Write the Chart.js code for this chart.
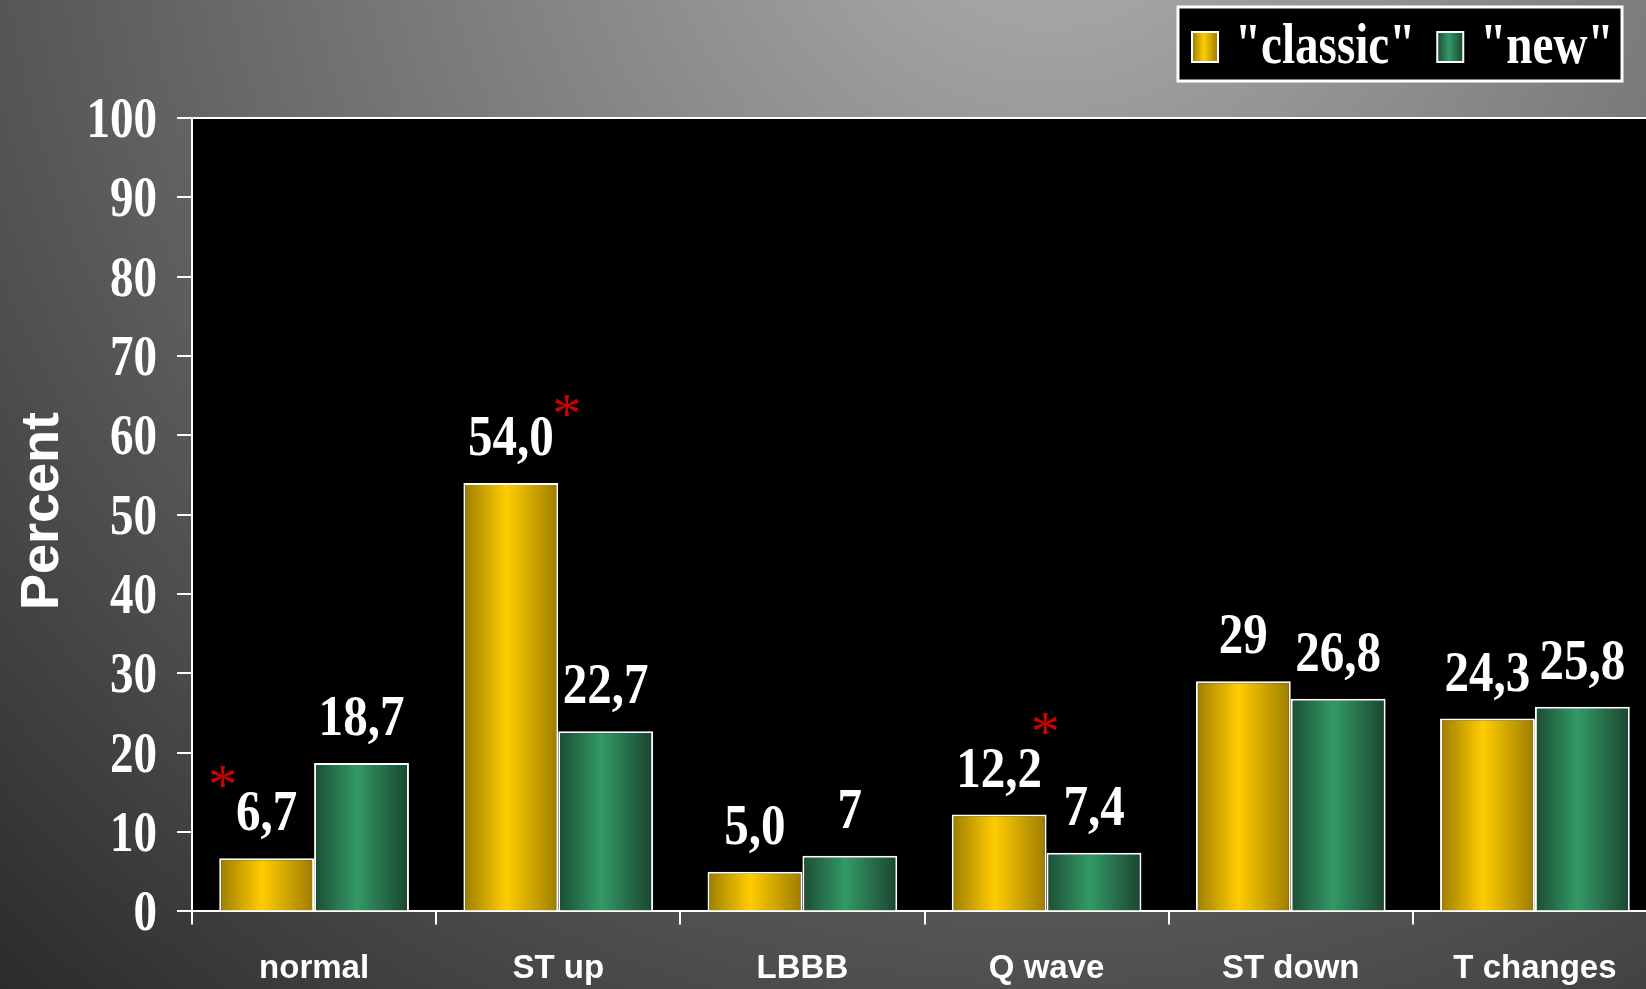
<!DOCTYPE html>
<html>

<head>
    <title>ECG findings: classic vs new</title>
    <script src="https://cdn.jsdelivr.net/npm/chart.js"></script>
    <style>
        body { margin: 0; background: #000; overflow: hidden; }
        canvas { display: block; }
    </style>
</head>

<body>
    <!-- a little wider than the window: the slide's plot runs past its right edge -->
    <canvas id="ecg-chart" width="1657" height="989"></canvas>

    <script>
        // Data
        const categories = ['normal', 'ST up', 'LBBB', 'Q wave', 'ST down', 'T changes'];
        const seriesNames = ['"classic"', '"new"'];
        const classicValues = [6.7, 54.0, 5.0, 12.2, 29, 24.3];
        const newValues = [18.7, 22.7, 7, 7.4, 26.8, 25.8];
        const classicLabels = ['6,7', '54,0', '5,0', '12,2', '29', '24,3'];
        const newLabels = ['18,7', '22,7', '7', '7,4', '26,8', '25,8'];
        // [datasetIndex, categoryIndex] of the bars marked with a red asterisk
        const starred = [[0, 0], [0, 1], [0, 3]];

        const SERIF = '"Liberation Serif", "Times New Roman", serif';
        const SQUEEZE = 0.84; // the slide's Times text is horizontally condensed

        const barColors = [
            ['#9c7c00', '#ffcc00', '#9c7c00'],
            ['#1b4d33', '#339966', '#1a452f']
        ];

        function barGradient(ctx, left, width, colors) {
            const g = ctx.createLinearGradient(left, 0, left + width, 0);
            g.addColorStop(0, colors[0]);
            g.addColorStop(0.45, colors[1]);
            g.addColorStop(1, colors[2]);
            return g;
        }

        function squeezeText(ctx, text, x, y, align, sx) {
            ctx.save();
            ctx.translate(x, y);
            ctx.scale(sx || SQUEEZE, 1);
            ctx.textAlign = align;
            ctx.fillText(text, 0, 0);
            ctx.restore();
        }

        // background, black plot area, shaded bars
        const slidePlugin = {
            id: 'slide',
            beforeDraw(chart) {
                const { ctx, width, height, chartArea } = chart;
                const bg = ctx.createRadialGradient(1050, -150, 0, 1050, -150, 1700);
                bg.addColorStop(0, '#b2b2b2');
                bg.addColorStop(1, '#1e1e1e');
                ctx.save();
                ctx.fillStyle = bg;
                ctx.fillRect(0, 0, width, height);
                ctx.fillStyle = '#000';
                ctx.fillRect(chartArea.left, chartArea.top, chartArea.right - chartArea.left, chartArea.bottom - chartArea.top);
                ctx.strokeStyle = '#fff';
                ctx.lineWidth = 2;
                ctx.beginPath();
                ctx.moveTo(chartArea.left - 15, chartArea.top);
                ctx.lineTo(chartArea.right, chartArea.top);
                ctx.stroke();
                ctx.restore();
            },
            beforeDatasetsDraw(chart) {
                chart.data.datasets.forEach((ds, di) => {
                    chart.getDatasetMeta(di).data.forEach(el => {
                        const left = el.x - el.width / 2;
                        el.options.backgroundColor = barGradient(chart.ctx, left, el.width, barColors[di]);
                    });
                });
            }
        };

        // value labels, asterisks, y tick labels, axis title, legend box
        const textPlugin = {
            id: 'slideText',
            afterDraw(chart) {
                const { ctx } = chart;
                const labelSets = [classicLabels, newLabels];
                ctx.save();
                ctx.fillStyle = '#fff';
                ctx.font = 'bold 57px ' + SERIF;
                ctx.textBaseline = 'alphabetic';

                chart.data.datasets.forEach((ds, di) => {
                    chart.getDatasetMeta(di).data.forEach((el, i) => {
                        squeezeText(ctx, labelSets[di][i], el.x, el.y - 28, 'center', 0.86);
                    });
                });

                // red asterisks
                const starOffsets = [[-44, -82], [56, -77], [46, -91]];
                ctx.fillStyle = '#d00000';
                ctx.font = '58px ' + SERIF;
                ctx.textAlign = 'center';
                starred.forEach(([di, i], k) => {
                    const el = chart.getDatasetMeta(di).data[i];
                    const m = ctx.measureText('*');
                    const mid = (m.actualBoundingBoxAscent - m.actualBoundingBoxDescent) / 2;
                    ctx.fillText('*', el.x + starOffsets[k][0], el.y + starOffsets[k][1] + mid);
                });

                // y tick labels
                const y = chart.scales.y;
                ctx.fillStyle = '#fff';
                ctx.font = 'bold 56px ' + SERIF;
                y.ticks.forEach(t => {
                    squeezeText(ctx, String(t.value), 157, y.getPixelForValue(t.value) + 19, 'right');
                });

                // axis title
                ctx.save();
                ctx.translate(58, 511);
                ctx.rotate(-Math.PI / 2);
                ctx.font = 'bold 54px "Liberation Sans", Arial, sans-serif';
                ctx.textAlign = 'center';
                ctx.fillText('Percent', 0, 0);
                ctx.restore();

                // legend
                ctx.fillStyle = '#000';
                ctx.fillRect(1178, 7, 444, 74);
                ctx.strokeStyle = '#fff';
                ctx.lineWidth = 3;
                ctx.strokeRect(1178, 7, 444, 74);
                ctx.font = 'bold 56px ' + SERIF;
                let x = 1192;
                chart.data.datasets.forEach((ds, di) => {
                    ctx.fillStyle = barGradient(ctx, x, 26, barColors[di]);
                    ctx.fillRect(x, 32, 26, 30);
                    ctx.lineWidth = 2;
                    ctx.strokeRect(x, 32, 26, 30);
                    ctx.fillStyle = '#fff';
                    squeezeText(ctx, ds.label, x + 43, 63, 'left');
                    x += 43 + ctx.measureText(ds.label).width * SQUEEZE + 22;
                });
                ctx.restore();
            }
        };

        const barStyle = {
            categoryPercentage: 0.777,
            barPercentage: 1,
            borderColor: '#fff',
            borderWidth: 2,
            backgroundColor: () => '#888' // replaced by a gradient before drawing
        };

        new Chart(document.getElementById('ecg-chart').getContext('2d'), {
            type: 'bar',
            data: {
                labels: categories,
                datasets: [
                    { label: seriesNames[0], data: classicValues, ...barStyle },
                    { label: seriesNames[1], data: newValues, ...barStyle }
                ]
            },
            options: {
                responsive: false,
                animation: false,
                layout: { padding: { left: 177, top: 118, right: 0, bottom: -25 } },
                plugins: {
                    legend: { display: false },
                    tooltip: { enabled: false }
                },
                scales: {
                    x: {
                        grid: { drawOnChartArea: false, tickLength: 13, color: '#fff', lineWidth: 2 },
                        border: { color: '#fff', width: 2 },
                        ticks: {
                            color: '#fff',
                            padding: 25,
                            font: { family: '"Liberation Sans", Arial, sans-serif', size: 33, weight: 'bold' }
                        }
                    },
                    y: {
                        min: 0,
                        max: 100,
                        grid: { drawOnChartArea: false, tickLength: 15, color: '#fff', lineWidth: 2 },
                        border: { color: '#fff', width: 2 },
                        ticks: { display: false, stepSize: 10 }
                    }
                }
            },
            plugins: [slidePlugin, textPlugin]
        });
    </script>
</body>

</html>
